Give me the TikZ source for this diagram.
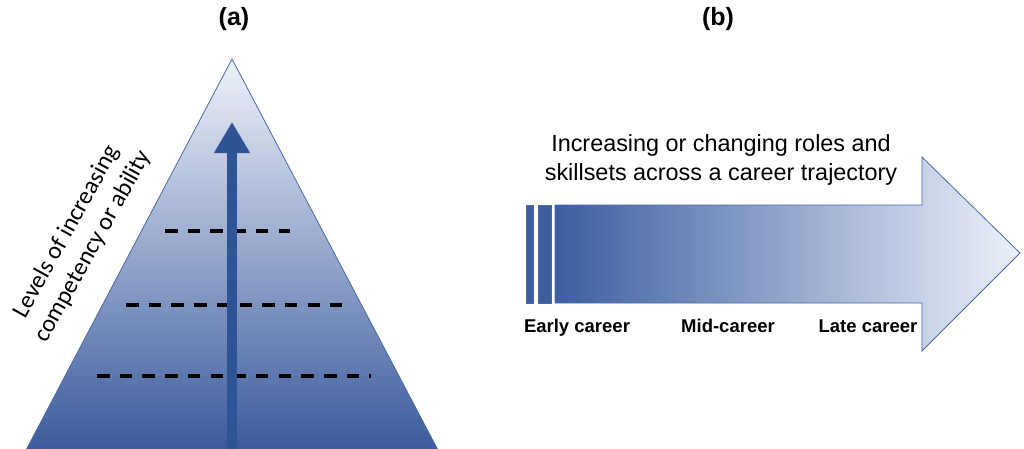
\documentclass[tikz,border=0pt]{standalone}
\usepackage{fontspec}
\setmainfont{Liberation Sans}
\newfontfamily\calibrifont{Carlito}
\usetikzlibrary{arrows.meta}
\definecolor{pyrdark}{RGB}{58,90,156}
\definecolor{pyrlight}{RGB}{238,242,250}
\definecolor{shaftblue}{RGB}{47,84,150}
\definecolor{edgeblue}{RGB}{72,105,170}
\definecolor{careerdark}{RGB}{60,94,160}
\definecolor{careerlight}{RGB}{236,241,250}
\tikzstyle{level}=[draw=black, line width=3.2pt, dash pattern=on 12.5pt off 10.2pt]
\tikzstyle{caption}=[font=\bfseries\fontsize{18.5}{22}\selectfont, inner sep=0pt, anchor=base]
\tikzstyle{panel}=[font=\bfseries\fontsize{25}{30}\selectfont, inner sep=0pt]
\tikzstyle{stripe}=[fill=careerdark, draw=edgeblue, line width=0.6pt]

\begin{document}
\begin{tikzpicture}[x=1pt, y=-1pt]
		   \useasboundingbox (0,0) rectangle (1024,448);
		   % (a) pyramid
		   \begin{scope}
			   \coordinate (apex) at (232,59);
			   \coordinate (baseL) at (25,452);
			   \coordinate (baseR) at (439,452);
			   \shade[top color=pyrlight, bottom color=pyrdark, draw=edgeblue, line width=0.8pt] (apex) -- (baseR) -- (baseL) -- cycle;
			   \foreach \y/\xa/\xb in {231/165/290, 305/126/342, 376/97/371}
				   \draw[level] (\xa,\y) -- (\xb,\y);
			   \coordinate (shaftbot) at (232,452);
			   \coordinate (shafttip) at (232,122);
			   \draw[shaftblue, line width=10pt, -{Triangle[width=34pt, length=31pt]}] (shaftbot) -- (shafttip);
			   \node (levels) at (80,239)[rotate=61, align=center, inner sep=0pt, font=\calibrifont\fontsize{24.5}{30}\selectfont] {Levels of increasing\\competency or ability};
			   \node (labela) at (234,19)[panel] {(a)};
		   \end{scope}
		   % (b) career arrow
		   \begin{scope}
			   \shade[left color=careerdark, right color=careerlight, draw=edgeblue, line width=0.8pt]
				   (555,205) -- (922,205) -- (922,157) -- (1020,253) -- (922,351) -- (922,303) -- (555,303) -- cycle;
			   \path[stripe] (526,205) rectangle (533,303);
			   \path[stripe] (538,205) rectangle (551,303);
			   \node (roles) at (721,160)[align=center, inner sep=0pt, font=\fontsize{23.4}{28.3}\selectfont] {Increasing or changing roles and\\skillsets across a career trajectory};
			   \node (early) at (577,332)[caption] {Early career};
			   \node (mid) at (728,332)[caption] {Mid-career};
			   \node (late) at (868,332)[caption] {Late career};
			   \node (labelb) at (718,19)[panel] {(b)};
		   \end{scope}
	   \end{tikzpicture}
\end{document}
